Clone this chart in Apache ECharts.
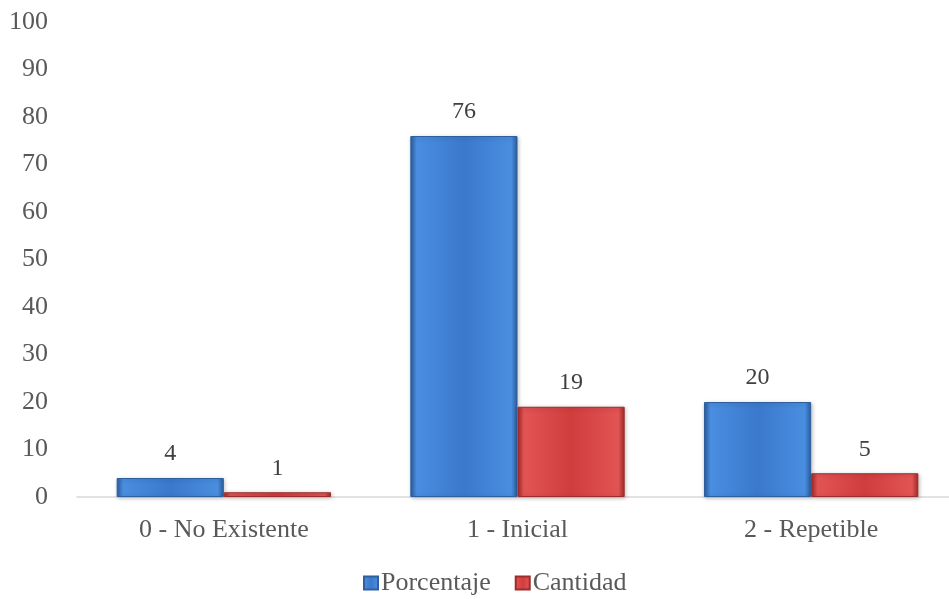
<!DOCTYPE html>
<html>
<head>
<meta charset="utf-8">
<script src="https://cdn.jsdelivr.net/npm/echarts@6/dist/echarts.min.js"></script>
<style>
  html, body { margin: 0; padding: 0; background: #fff; }
  #main { width: 949px; height: 599px; }
</style>
</head>
<body>
<div id="main"></div>
<script>
var categories = ['0 - No Existente', '1 - Inicial', '2 - Repetible'];
var porcentaje = [4, 76, 20];
var cantidad = [1, 19, 5];
var yTicks = [0, 10, 20, 30, 40, 50, 60, 70, 80, 90, 100];

function bevel(light, mid, dark) {
    return {
        type: 'linear', x: 0, y: 0, x2: 1, y2: 0,
        colorStops: [
            {offset: 0, color: dark},
            {offset: 0.06, color: light},
            {offset: 0.5, color: mid},
            {offset: 0.94, color: light},
            {offset: 1, color: dark}
        ]
    };
}

var myChart = echarts.init(document.getElementById('main'));
var font = '"Liberation Serif", "Times New Roman", serif';
var option = {
    textStyle: {fontFamily: font},
    animation: false,
    grid: {left: 77, width: 881, top: 22, height: 475, containLabel: false, outerBoundsMode: 'none'},
    legend: {
        top: 565,
        left: 358,
        itemWidth: 14,
        itemHeight: 13,
        itemGap: 24,
        icon: 'rect',
        textStyle: {fontFamily: font, fontSize: 26, color: '#595959', padding: [0, 0, 0, -2]},
        data: ['Porcentaje', 'Cantidad']
    },
    xAxis: {
        type: 'category',
        data: categories,
        axisLine: {lineStyle: {color: '#d9d9d9', width: 1.5}},
        axisTick: {show: false},
        axisLabel: {fontFamily: font, fontSize: 26, color: '#595959', margin: 20}
    },
    yAxis: {
        type: 'value',
        min: 0,
        max: 100,
        interval: 10,
        axisLine: {show: false},
        axisTick: {show: false},
        splitLine: {show: false},
        axisLabel: {
            fontFamily: font, fontSize: 26, color: '#595959', margin: 29,
            formatter: function (v) { return yTicks.indexOf(v) >= 0 ? String(v) : ''; }
        }
    },
    series: [
        {
            name: 'Porcentaje',
            type: 'bar',
            data: porcentaje,
            barGap: '0%',
            barCategoryGap: '27%',
            itemStyle: {
                color: bevel('#4a8ee0', '#3a79cc', '#2a5d9e'),
                borderColor: '#2f5f9c',
                borderWidth: 1,
                shadowColor: 'rgba(0,0,0,0.25)',
                shadowBlur: 4,
                shadowOffsetX: 1,
                shadowOffsetY: 1
            },
            label: {show: true, position: 'top', distance: 12, fontFamily: font, fontSize: 24, color: '#404040'}
        },
        {
            name: 'Cantidad',
            type: 'bar',
            data: cantidad,
            itemStyle: {
                color: bevel('#e25454', '#d03d3d', '#a02a2a'),
                borderColor: '#9e2c2c',
                borderWidth: 1,
                shadowColor: 'rgba(0,0,0,0.25)',
                shadowBlur: 4,
                shadowOffsetX: 1,
                shadowOffsetY: 1
            },
            label: {show: true, position: 'top', distance: 12, fontFamily: font, fontSize: 24, color: '#404040'}
        }
    ]
};
myChart.setOption(option);
</script>
</body>
</html>
